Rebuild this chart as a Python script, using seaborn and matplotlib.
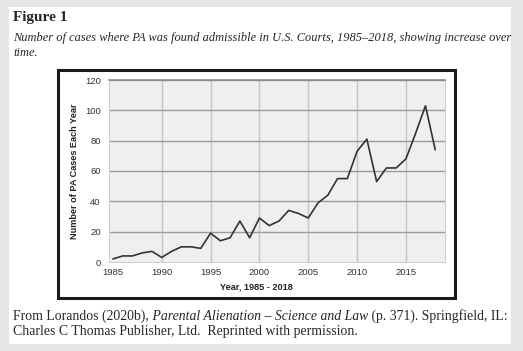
import numpy as np
import pandas as pd
import seaborn as sns
import matplotlib.pyplot as plt
from matplotlib.patches import Rectangle

# Dados
years = list(range(1985, 2019))
cases = [2, 4, 4, 6, 7, 3, 7, 10, 10, 9,
         19, 14, 16, 27, 16, 29, 24, 27, 34, 32,
         29, 39, 44, 55, 55, 73, 81, 53, 62, 62,
         68, 85, 103, 74]
x_ticks = [1985, 1990, 1995, 2000, 2005, 2010, 2015]
y_ticks = [0, 20, 40, 60, 80, 100, 120]

title = "Figure 1"
subtitle_1 = "Number of cases where PA was found admissible in U.S. Courts, 1985\u20132018, showing increase over"
subtitle_2 = "time."
x_label = "Year, 1985 - 2018"
y_label = "Number of PA Cases Each Year"

df = pd.DataFrame({"year": years, "cases": cases})

sns.set_style("whitegrid")
serif = ["Liberation Serif", "DejaVu Serif"]
sans = ["Liberation Sans", "DejaVu Sans"]

W, H = 523, 351
fig = plt.figure(figsize=(W / 100, H / 100), dpi=100)
fig.patch.set_facecolor("#e6e6e6")

# cartão branco e moldura do gráfico
fig.patches.append(Rectangle((9 / W, 1 - 344 / H), 502 / W, 337 / H,
                             transform=fig.transFigure, facecolor="white",
                             edgecolor="none", zorder=0))
fig.patches.append(Rectangle((58 / W, 1 - 298 / H), 397 / W, 228 / H,
                             transform=fig.transFigure, facecolor="white",
                             edgecolor="#1a1a1a", linewidth=2.2, zorder=1))

ax = fig.add_axes([109 / W, 1 - 262 / H, 336 / W, 182 / H])
ax.set_zorder(5)
ax.set_facecolor("#efefef")
sns.lineplot(data=df, x="year", y="cases", ax=ax, color="#333333", linewidth=1.2)

ax.set_xlim(1984.6, 2019.0)
ax.set_ylim(0, 120)
ax.set_xticks(x_ticks)
ax.set_yticks(y_ticks)
ax.grid(False)
for xv in x_ticks[1:]:
    ax.axvline(xv, color="#c4c4c4", linewidth=1.0, zorder=0)
for yv in y_ticks[1:]:
    ax.axhline(yv, color="#9a9a9a", linewidth=1.0, zorder=0)
for s in ["left", "right", "bottom"]:
    ax.spines[s].set_color("#cfcfcf")
    ax.spines[s].set_linewidth(0.8)
ax.spines["top"].set_color("#8a8a8a")
ax.spines["top"].set_linewidth(1.2)
ax.tick_params(length=0, labelsize=6.8, labelcolor="#333333")
ax.tick_params(axis="y", pad=6)
ax.tick_params(axis="x", pad=4)
for lab in ax.get_xticklabels() + ax.get_yticklabels():
    lab.set_family(sans)
ax.set_xlabel("")
ax.set_ylabel(y_label, fontsize=6.6, fontweight="bold", family=sans,
              color="#222222", labelpad=4)
fig.text(256 / W, 1 - 287 / H, x_label, fontsize=6.6, fontweight="bold",
         family=sans, color="#222222", ha="center", va="center", zorder=6)

# títulos
fig.text(13 / W, 1 - 18 / H, title, fontsize=11, fontweight="bold",
         family=serif, ha="left", va="center")
fig.text(13 / W, 1 - 38 / H, subtitle_1, fontsize=8.95, style="italic",
         family=serif, ha="left", va="center")
fig.text(13 / W, 1 - 53 / H, subtitle_2, fontsize=8.95, style="italic",
         family=serif, ha="left", va="center")

# legenda da fonte, com trecho em itálico
cap_size = 9.9
t1 = fig.text(13 / W, 1 - 320 / H, "From Lorandos (2020b),", fontsize=cap_size,
              family=serif, ha="left", va="baseline")
t2 = fig.text(0, 0, "\u00a0Parental Alienation \u2013 Science and Law", fontsize=cap_size,
              family=serif, style="italic", ha="left", va="baseline")
t3 = fig.text(0, 0, "\u00a0(p. 371). Springfield, IL:", fontsize=cap_size,
              family=serif, ha="left", va="baseline")
fig.canvas.draw()
r = fig.canvas.get_renderer()
inv = fig.transFigure.inverted()
x1 = inv.transform((t1.get_window_extent(r).x1, 0))[0]
t2.set_position((x1, 1 - 320 / H))
fig.canvas.draw()
x2 = inv.transform((t2.get_window_extent(r).x1, 0))[0]
t3.set_position((x2, 1 - 320 / H))
fig.text(13 / W, 1 - 335 / H, "Charles C Thomas Publisher, Ltd.  Reprinted with permission.",
         fontsize=cap_size, family=serif, ha="left", va="baseline")

plt.savefig("out.png", dpi=100, facecolor=fig.get_facecolor())
plt.close()
